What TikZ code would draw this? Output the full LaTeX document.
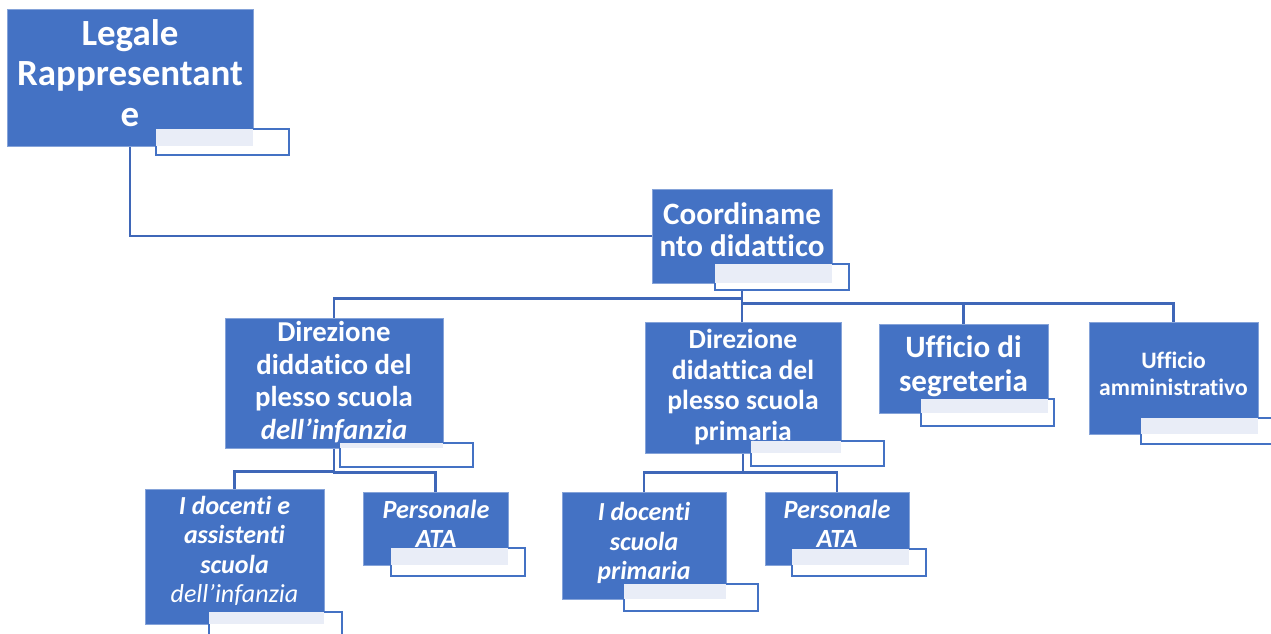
\documentclass[tikz,border=0pt]{standalone}
\usepackage{fontspec}
\setmainfont{Carlito}[Ligatures={NoCommon,NoContextual}, Contextuals=NoAlternate]
\usetikzlibrary{fit}
\definecolor{boxblue}{HTML}{4472C4}
\definecolor{lineblue}{HTML}{3F67B8}
\definecolor{lightfill}{HTML}{E9EDF7}
\pgfdeclarelayer{background}
\pgfsetlayers{background,main}
\tikzset{
  box/.style={rectangle, fill=boxblue, draw=boxblue!65!white, line width=0.5pt, inner sep=0pt},
  tbox/.style={rectangle, fill=white, draw=boxblue, line width=2pt, inner sep=0pt},
  conn/.style={draw=lineblue, line width=2pt},
  lbl/.style={text=white, align=center, inner sep=0pt},
}
\newcommand{\fsz}[2]{\fontsize{#1}{#2}\selectfont}
\begin{document}
\begin{tikzpicture}[x=0.75pt, y=-0.75pt]
\useasboundingbox (0,0) rectangle (1271,634);
\clip (0,0) rectangle (1271,634);
% blue boxes
\node[box, fit={(7,9) (253,146)}] (legal) {};
\node[box, fit={(652,189) (832,283)}] (coord) {};
\node[box, fit={(225,318) (443,448)}] (dir1) {};
\node[box, fit={(645,322) (841,453)}] (dir2) {};
\node[box, fit={(879,324) (1048,413)}] (uff1) {};
\node[box, fit={(1089,322) (1258,434)}] (uff2) {};
\node[box, fit={(145,489) (324,624)}] (doc1) {};
\node[box, fit={(363,492) (508,565)}] (ata1) {};
\node[box, fit={(562,492) (726,599)}] (doc2) {};
\node[box, fit={(765,492) (909,565)}] (ata2) {};
% text boxes
\node[tbox, fit={(156,129) (289,155)}] (tb1) {};
\node[tbox, fit={(715,264) (849,290)}] (tb2) {};
\node[tbox, fit={(340,443) (473,467)}] (tb3) {};
\node[tbox, fit={(751,441) (884,466)}] (tb4) {};
\node[tbox, fit={(921,399) (1054,426)}] (tb5) {};
\node[tbox, fit={(1141,418) (1300,444)}] (tb6) {};
\node[tbox, fit={(209,612) (342,660)}] (tb7) {};
\node[tbox, fit={(391,548) (525,576)}] (tb8) {};
\node[tbox, fit={(624,584) (758,611)}] (tb9) {};
\node[tbox, fit={(792,549) (926,576)}] (tb10) {};
% light overlap areas
\fill[lightfill] ([shift={(1.5,1.5)}]tb1.north west) rectangle (legal.south east);
\fill[lightfill] ([shift={(1.5,1.5)}]tb2.north west) rectangle (coord.south east);
\fill[lightfill] ([shift={(1.5,1.5)}]tb3.north west) rectangle (dir1.south east);
\fill[lightfill] ([shift={(1.5,1.5)}]tb4.north west) rectangle (dir2.south east);
\fill[lightfill] ([shift={(1.5,1.5)}]tb5.north west) rectangle (uff1.south east);
\fill[lightfill] ([shift={(1.5,1.5)}]tb6.north west) rectangle (uff2.south east);
\fill[lightfill] ([shift={(1.5,1.5)}]tb7.north west) rectangle (doc1.south east);
\fill[lightfill] ([shift={(1.5,1.5)}]tb8.north west) rectangle (ata1.south east);
\fill[lightfill] ([shift={(1.5,1.5)}]tb9.north west) rectangle (doc2.south east);
\fill[lightfill] ([shift={(1.5,1.5)}]tb10.north west) rectangle (ata2.south east);
% labels
\node[lbl, font={\bfseries\fsz{27.7pt}{30.5pt}}] (tlegal) at (130,73) {Legale\\Rappresentant\\e};
\node[lbl, font={\bfseries\fsz{23.3pt}{24pt}}] (tcoord) at (742,230) {Coordiname\\nto didattico};
\node[lbl, font={\bfseries\fsz{21.6pt}{24.6pt}}] (tdir1) at (334,382) {Direzione\\diddatico del\\plesso scuola\\\textit{dell’infanzia}};
\node[lbl, font={\bfseries\fsz{20.7pt}{23pt}}] (tdir2) at (743,387) {Direzione\\didattica del\\plesso scuola\\primaria};
\node[lbl, font={\bfseries\fsz{23.3pt}{25.5pt}}] (tuff1) at (963.5,366) {Ufficio di\\segreteria};
\node[lbl, font={\bfseries\fsz{17.7pt}{20pt}}] (tuff2) at (1173.5,374) {Ufficio\\amministrativo};
\node[lbl, font={\bfseries\itshape\fsz{19.5pt}{22pt}}] (tdoc1) at (234.5,551) {I docenti e\\assistenti\\scuola\\{\mdseries dell’infanzia}};
\node[lbl, font={\bfseries\itshape\fsz{19.7pt}{21.8pt}}] (tata1) at (436,524) {Personale\\ATA};
\node[lbl, font={\bfseries\itshape\fsz{19.5pt}{22pt}}] (tdoc2) at (644,543) {I docenti\\scuola\\primaria};
\node[lbl, font={\bfseries\itshape\fsz{19.7pt}{21.8pt}}] (tata2) at (837,524) {Personale\\ATA};
% connectors
\begin{pgfonlayer}{background}
\draw[conn] (legal.south) |- (coord.west);
\draw[conn] (coord.south) -- ++(0,15) -| (dir1.north);
\draw[conn] (coord.south) -- (coord.south |- dir2.north);
\draw[conn] (coord.south) -- ++(0,20) -| (uff1.north);
\draw[conn] (coord.south) -- ++(0,20) -| (uff2.north);
\draw[conn] (dir1.south) -- ++(0,23) -| (doc1.north);
\draw[conn] (dir1.south) -- ++(0,24) -| (ata1.north);
\draw[conn] (dir2.south) -- ++(0,19) -| (doc2.north);
\draw[conn] (dir2.south) -- ++(0,19) -| (ata2.north);
\end{pgfonlayer}
\end{tikzpicture}
\end{document}
